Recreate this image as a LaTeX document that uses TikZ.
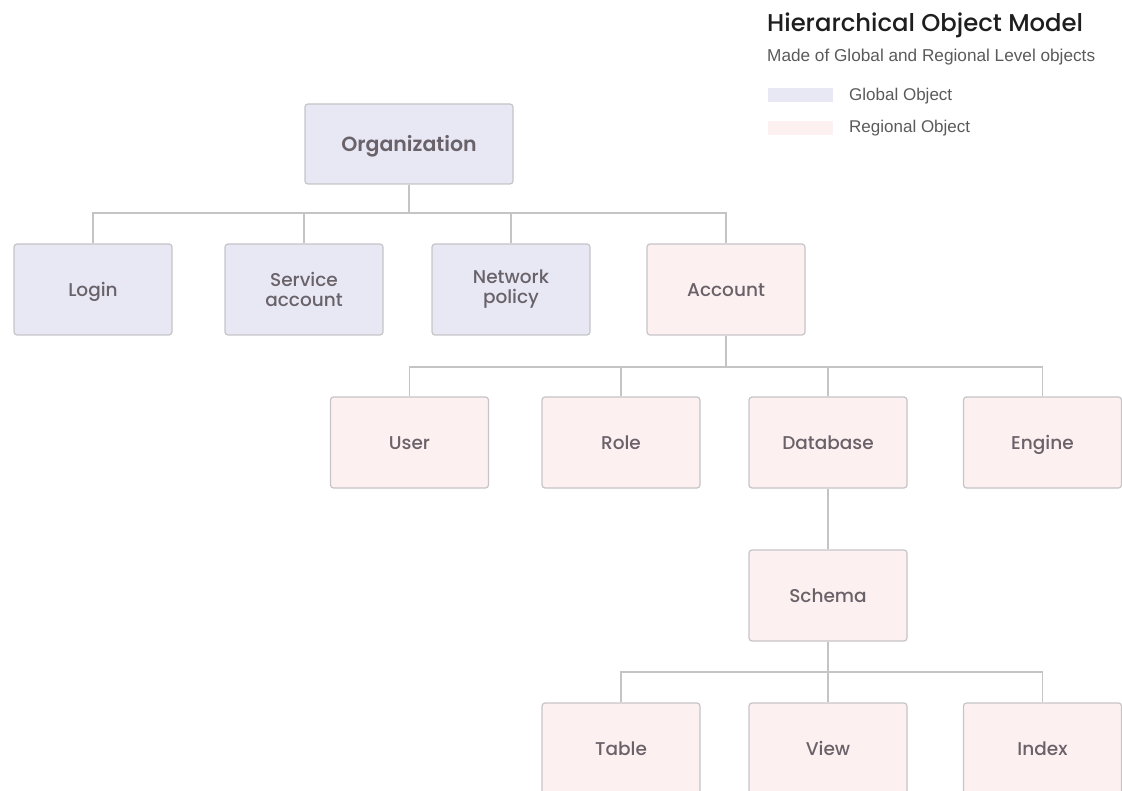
\documentclass[tikz,border=0pt]{standalone}
\usepackage{fontspec}
\setmainfont{Liberation Sans}
\newfontfamily\popfont{Poppins Medium}
\newfontfamily\popsemi{Poppins SemiBold}
\definecolor{globalfill}{HTML}{E8E8F5}
\definecolor{regionfill}{HTML}{FDF0F1}
\definecolor{boxline}{HTML}{C6C4C8}
\definecolor{linkline}{HTML}{C4C4C4}
\definecolor{labeltext}{HTML}{6A6269}
\definecolor{titletext}{HTML}{1E1E1E}
\definecolor{subtext}{HTML}{5A5A5A}
\begin{document}
\begin{tikzpicture}[x=1pt,y=-1pt,
  objbox/.style={draw=boxline, line width=1.2pt, rounded corners=3pt,
    minimum width=158pt, minimum height=91pt, align=center,
    text height=13.5pt, text depth=0pt,
    text=labeltext, font=\popfont\fontsize{18.5}{20}\selectfont},
  twoline/.style={text height=, text depth=},
  globalobj/.style={objbox, fill=globalfill},
  regionobj/.style={objbox, fill=regionfill},
  legendtext/.style={anchor=west, inner sep=0pt, text=subtext, font=\fontsize{17}{20}\selectfont},
  swatch/.style={minimum width=65pt, minimum height=14pt, inner sep=0pt},
  link/.style={draw=linkline, line width=1.2pt}]
\useasboundingbox (0,0) rectangle (1122,791);

% title and legend
\node[anchor=base west, inner sep=0pt, text=titletext, font=\popfont\fontsize{24.3}{28}\selectfont] (title) at (767,32) {Hierarchical Object Model};
\node[anchor=base west, inner sep=0pt, text=subtext, font=\fontsize{17.2}{20}\selectfont] (subtitle) at (767,62) {Made of Global and Regional Level objects};
\node[swatch, fill=globalfill] (gswatch) at (800.5,95) {};
\node[swatch, fill=regionfill] (rswatch) at (800.5,128) {};
\node[legendtext] (glabel) at (849,96) {Global Object};
\node[legendtext] (rlabel) at (849,128) {Regional Object};

% level 1
\node[globalobj, minimum width=208pt, minimum height=80pt, text height=15pt, font=\popsemi\fontsize{20.5}{24}\selectfont] (org) at (409,144) {Organization};

% level 2
\node[globalobj] (login) at (93,289.5) {Login};
\node[globalobj, twoline] (svc) at (304,289.5) {Service\\account};
\node[globalobj, twoline] (net) at (511,289.5) {Network\\policy};
\node[regionobj] (acct) at (726,289.5) {Account};

% level 3
\node[regionobj] (user) at (409.5,442.5) {User};
\node[regionobj] (role) at (621,442.5) {Role};
\node[regionobj] (db) at (828,442.5) {Database};
\node[regionobj] (engine) at (1042.5,442.5) {Engine};

% level 4
\node[regionobj] (schema) at (828,595.5) {Schema};

% level 5 (runs past the lower edge)
\node[regionobj] (table) at (621,748.5) {Table};
\node[regionobj] (view) at (828,748.5) {View};
\node[regionobj] (index) at (1042.5,748.5) {Index};

% connectors
\coordinate (j1) at (409,213);
\coordinate (j2) at (726,367);
\coordinate (j3) at (828,672);
\draw[link] (org.south) -- (j1);
\draw[link] (login.north) |- (j1) -| (acct.north);
\draw[link] (svc.north) -- (svc.north |- j1);
\draw[link] (net.north) -- (net.north |- j1);

\draw[link] (acct.south) -- (j2);
\draw[link] (user.north) |- (j2) -| (engine.north);
\draw[link] (role.north) -- (role.north |- j2);
\draw[link] (db.north) -- (db.north |- j2);

\draw[link] (db.south) -- (schema.north);

\draw[link] (schema.south) -- (j3);
\draw[link] (table.north) |- (j3) -| (index.north);
\draw[link] (view.north) -- (j3);
\end{tikzpicture}
\end{document}
